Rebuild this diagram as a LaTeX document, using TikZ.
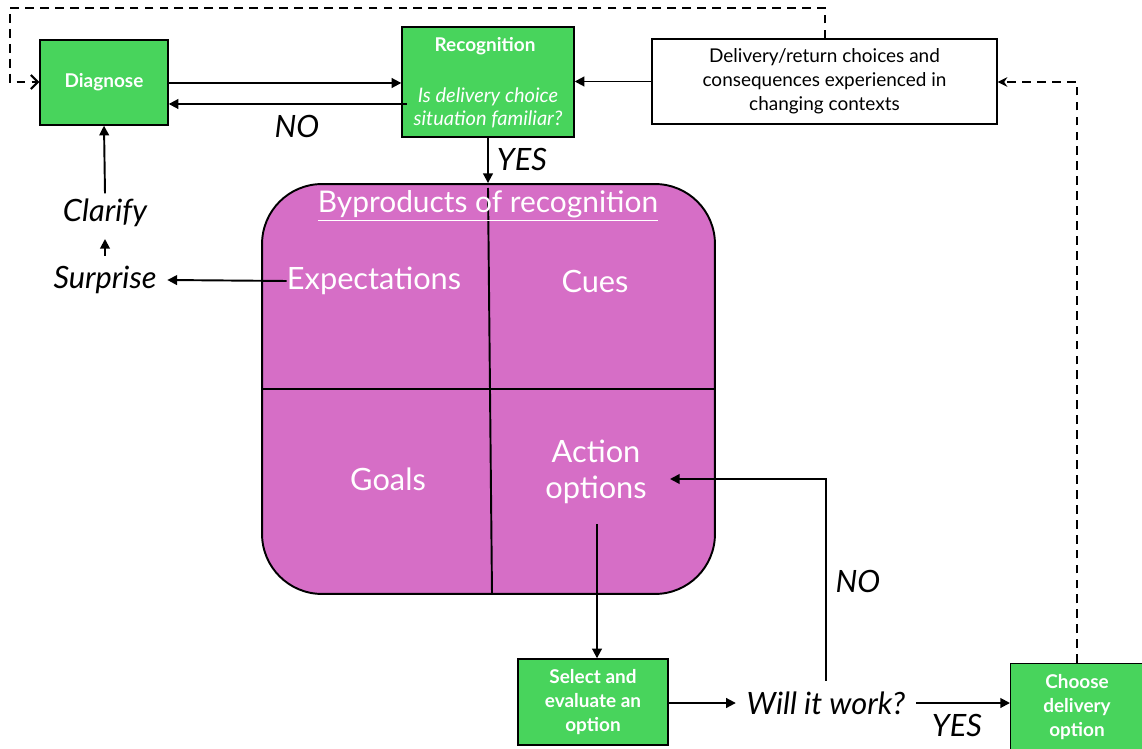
\documentclass[tikz,border=0pt]{standalone}
\usepackage{fontspec}
\setmainfont{Lato}
\usetikzlibrary{arrows.meta}
\definecolor{boxgreen}{RGB}{72,212,92}
\definecolor{orchidfill}{RGB}{214,110,198}
\tikzset{
  greenbox/.style={draw=black, line width=0.8pt, fill=boxgreen, text=white,
    font=\bfseries\fontsize{10.8}{13.6}\selectfont, align=center, inner sep=0pt},
  whitebox/.style={draw=black, line width=0.8pt, fill=white, text=black,
    font=\fontsize{10.8}{13.6}\selectfont, align=center, inner sep=0pt},
  lbl/.style={font=\itshape\fontsize{17.5}{20}\selectfont, inner sep=0pt},
  cell/.style={text=white, font=\fontsize{17.5}{20.5}\selectfont, align=center, inner sep=0pt},
  conn/.style={line width=1.1pt, -{Triangle[length=5.5pt,width=5.5pt]}},
  plain/.style={line width=1.1pt},
  dashconn/.style={line width=1.2pt, dash pattern=on 5pt off 3.5pt},
}
\begin{document}
\begin{tikzpicture}[x=0.02cm,y=-0.02cm]
\useasboundingbox (0,0) rectangle (1142,749);

% boxes
\node[greenbox, minimum width=2.56cm, minimum height=1.7cm] (diag) at (104,82.5) {Diagnose};
\node[greenbox, minimum width=3.44cm, minimum height=2.2cm] (rec) at (488,82) {};
\node[text=white, font=\bfseries\fontsize{10.8}{13}\selectfont, inner sep=0pt] (rect) at (485,46) {Recognition};
\node[text=white, font=\itshape\fontsize{11.4}{13.2}\selectfont, align=center, inner sep=0pt] (recq) at (488,107.5) {Is delivery choice\\situation familiar?};
\node[whitebox, minimum width=6.9cm, minimum height=1.7cm] (deliv) at (824.5,81.5) {Delivery/return choices and\\consequences experienced in\\changing contexts};

% purple panel
\node[draw=black, line width=1.1pt, fill=orchidfill, rounded corners=1.2cm,
  minimum width=9.06cm, minimum height=8.2cm, inner sep=0pt] (panel) at (488.5,389) {};
\coordinate (vtop) at (488,188);
\coordinate (vbot) at (492,594);
\coordinate (hl) at (262,389);
\coordinate (hr) at (715,389);
\draw[plain] (vtop) -- (vbot);
\draw[plain] (hl) -- (hr);
\node[cell, font=\fontsize{17}{20}\selectfont] (byp) at (488,206) {\underline{Byproducts of recognition}};
\node[cell] (exp) at (374,281) {Expectations};
\node[cell] (cues) at (595,281) {Cues};
\node[cell] (goals) at (388,479) {Goals};
\node[cell] (act) at (596,472) {Action\\options};

% left labels
\node[lbl] (surp) at (105,280) {Surprise};
\node[lbl] (clar) at (105,213) {Clarify};

% bottom
\node[greenbox, minimum width=3.0cm, minimum height=1.72cm] (sel) at (593,702) {Select and\\evaluate an\\option};
\node[lbl] (will) at (826,703) {Will it work?};
\node[greenbox, minimum width=2.7cm, minimum height=1.76cm, anchor=north west] (choose) at (1010,663) {};
\node[text=white, font=\bfseries\fontsize{10.8}{13.6}\selectfont, align=center, inner sep=0pt] (chooset) at (1077,707) {Choose\\delivery\\option};

% connectors
\draw[conn] (diag.east |- 0,83) -- (rec.west |- 0,83);
\draw[conn] ([xshift=3pt]rec.west |- 0,104) -- (diag.east |- 0,104);
\node[lbl] (no1) at (297,126) {NO};
\draw[conn] (deliv.west) -- (rec.east |- deliv.west);
\draw[conn] (rec.south) -- (panel.north -| rec.south);
\node[lbl] (yes1) at (522,160) {YES};

\draw[conn] (exp.west) -- ([xshift=6pt]surp.east);
\coordinate (sc1) at (105,256);
\coordinate (sc2) at (105,239);
\draw[conn] (sc1) -- (sc2);
\draw[conn] ([yshift=3pt]clar.north) -- (diag.south);

\draw[conn] (597,524) -- (sel.north -| 597,0);
\draw[conn] (sel.east |- will.west) -- ([xshift=-6pt]will.west);
\coordinate (nocorner) at (826,479);
\coordinate (noend) at (670,479);
\draw[conn] ([yshift=6pt]will.north) -- (nocorner) -- (noend);
\node[lbl] (no2) at (858,581) {NO};
\draw[conn] ([xshift=6pt]will.east) -- (choose.west |- will.east);
\node[lbl] (yes2) at (957,725) {YES};

% dashed feedback loops
\coordinate (d1) at (825,8);
\coordinate (d2) at (10,8);
\coordinate (d3) at (10,82);
\draw[dashconn, -{Straight Barb[length=4pt,width=8pt]}] (deliv.north -| d1) -- (d1) -- (d2) -- (d3) -- (diag.west |- d3);
\coordinate (e1) at (1077,82);
\draw[dashconn, -{Stealth[length=5.5pt,width=5.5pt]}] (choose.north -| e1) -- (e1) -- (deliv.east |- e1);
\end{tikzpicture}
\end{document}
